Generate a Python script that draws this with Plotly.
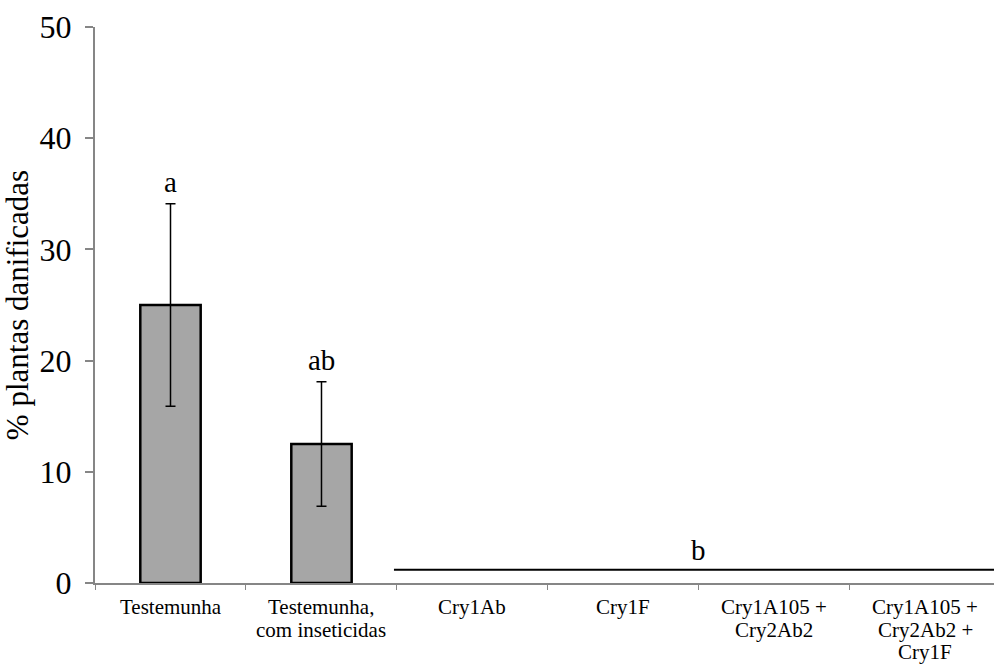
import plotly.graph_objects as go

categories = ["Testemunha", "Testemunha,<br>com inseticidas", "Cry1Ab", "Cry1F",
              "Cry1A105 +<br>Cry2Ab2", "Cry1A105 +<br>Cry2Ab2 +<br>Cry1F"]
values = [25.0, 12.5, 0, 0, 0, 0]
errors = [9.1, 5.6, 0, 0, 0, 0]
letters = ["a", "ab", "", "", "", ""]
group_b_label = "b"
group_b_first = 2          # first category index of group "b"
group_b_last = 5           # last category index of group "b"
group_b_level = 1.2        # height of the group line (%)
y_ticks = [0, 10, 20, 30, 40, 50]

FONT = "Liberation Serif"
AXIS_GRAY = "#868686"

# only non-zero bars are drawn (zero bars are invisible in the reference)
shown = [i for i, v in enumerate(values) if v > 0]

fig = go.Figure()
fig.add_trace(go.Bar(
    x=[categories[i] for i in shown], y=[values[i] for i in shown], width=0.4,
    marker=dict(color="#A6A6A6", line=dict(color="black", width=2.5)),
    error_y=dict(type="data", array=[errors[i] for i in shown],
                 visible=True, color="black", thickness=1.5, width=5),
    showlegend=False, hoverinfo="skip",
))

for cat, v, e, l in zip(categories, values, errors, letters):
    if l:
        fig.add_annotation(x=cat, y=v + e, text=l, showarrow=False,
                           yanchor="bottom", yshift=4,
                           font=dict(family=FONT, size=29, color="black"))

# category labels, one text per line with tight (Excel-like) line spacing
for cat in categories:
    for k, line in enumerate(cat.split("<br>")):
        fig.add_annotation(x=cat, xref="x", y=0, yref="paper", text=line,
                           showarrow=False, yanchor="middle",
                           yshift=-(24 + 22.5 * k),
                           font=dict(family=FONT, size=21, color="black"))

x_end = 5.454
fig.add_shape(type="line", xref="x", yref="y",
              x0=group_b_first - 0.52, x1=x_end,
              y0=group_b_level, y1=group_b_level,
              line=dict(color="black", width=2))
fig.add_annotation(x=(group_b_first + group_b_last) / 2, y=group_b_level,
                   text=group_b_label, showarrow=False, yanchor="bottom", yshift=2,
                   font=dict(family=FONT, size=29, color="black"))

fig.update_layout(
    width=994, height=667,
    margin=dict(l=95, r=0, t=27, b=84, autoexpand=False),
    paper_bgcolor="white", plot_bgcolor="white",
    font=dict(family=FONT, color="black"),
    bargap=0.6,
)
fig.update_xaxes(
    type="category", categoryorder="array", categoryarray=categories,
    range=[-0.5, x_end], automargin=False,
    showline=True, linecolor=AXIS_GRAY, linewidth=2,
    ticks="outside", tickson="boundaries", ticklen=5, tickcolor=AXIS_GRAY, tickwidth=1,
    showticklabels=False,
    showgrid=False,
)
fig.update_yaxes(
    range=[0, 50], tickvals=y_ticks, automargin=False,
    showline=True, linecolor=AXIS_GRAY, linewidth=2,
    ticks="outside", ticklen=8, tickcolor=AXIS_GRAY, tickwidth=2,
    ticklabelstandoff=7,
    tickfont=dict(family=FONT, size=32, color="black"),
    showgrid=False, zeroline=False,
    title=dict(text="% plantas danificadas", font=dict(family=FONT, size=31, color="black"),
               standoff=6),
)

fig.write_html("out.html", config={"displayModeBar": False},
               post_script="document.body.style.margin='0';")
